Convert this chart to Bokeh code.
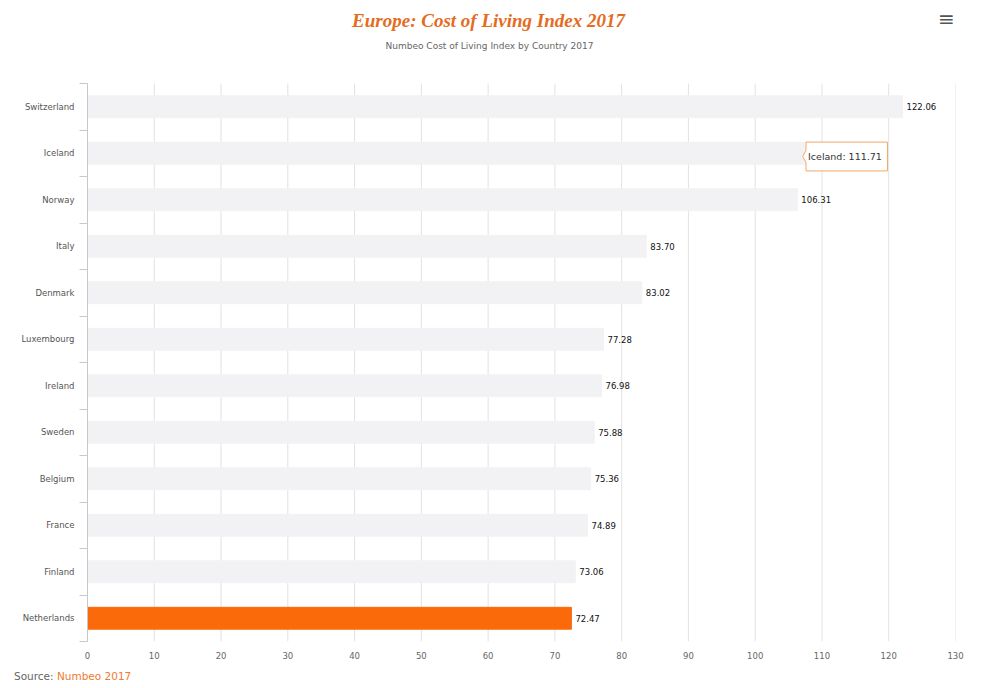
from bokeh.plotting import figure
from bokeh.models import Range1d, FixedTicker, Label, ColumnDataSource, Div
from bokeh.layouts import column
from bokeh.core.properties import value
from bokeh.embed import file_html
from bokeh.resources import INLINE

# ---- data ----
countries = ["Switzerland", "Iceland", "Norway", "Italy", "Denmark", "Luxembourg",
             "Ireland", "Sweden", "Belgium", "France", "Finland", "Netherlands"]
index_values = [122.06, 111.71, 106.31, 83.70, 83.02, 77.28,
                76.98, 75.88, 75.36, 74.89, 73.06, 72.47]
highlight = "Netherlands"
tooltip_country = "Iceland"
x_ticks = [0, 10, 20, 30, 40, 50, 60, 70, 80, 90, 100, 110, 120, 130]

title_text = "Europe: Cost of Living Index 2017"
subtitle_text = "Numbeo Cost of Living Index by Country 2017"
source_label = "Source:"
source_name = "Numbeo 2017"

ORANGE = "#fb6a0a"
BAR_GREY = "#f2f2f4"

# ---- layout constants (pixels) ----
FIG_W, FIG_H = 988, 666
PLOT_TOP = 83          # top of the bar area
FRAME_BOTTOM = 641     # bottom of the bar area / frame
n = len(countries)
cat_px = (FRAME_BOTTOM - PLOT_TOP) / n
y_end = n - 0.5 + PLOT_TOP / cat_px

ypos = [n - 1 - i for i in range(n)]  # first country at top
colors = [ORANGE if c == highlight else BAR_GREY for c in countries]

p = figure(width=FIG_W, height=FIG_H, output_backend="svg", toolbar_location=None,
           x_range=Range1d(0, 130), y_range=Range1d(-0.5, y_end),
           min_border_left=87, min_border_right=33, min_border_top=0,
           min_border_bottom=FIG_H - FRAME_BOTTOM, title=None)
p.outline_line_color = None
p.background_fill_color = "white"
p.border_fill_color = "white"
p.xgrid.grid_line_color = None
p.ygrid.grid_line_color = None

# vertical grid lines limited to the bar area
p.segment(x0=x_ticks, x1=x_ticks, y0=[-0.5] * len(x_ticks), y1=[n - 0.5] * len(x_ticks),
          line_color="#e2e2e2", line_width=1)

src = ColumnDataSource(dict(y=ypos, v=index_values, c=colors))
p.hbar(y="y", left=0, right="v", height=0.47, color="c", source=src)

# value labels (Iceland's sits under the tooltip)
lab_idx = [i for i, c in enumerate(countries) if c != tooltip_country]
lsrc = ColumnDataSource(dict(x=[index_values[i] for i in lab_idx],
                             y=[ypos[i] for i in lab_idx],
                             t=["%.2f" % index_values[i] for i in lab_idx]))
p.text(x="x", y="y", text="t", source=lsrc, x_offset=4, text_baseline="middle",
       text_align="left", text_font_size="8.5px", text_color="#111111",
       text_font=value("DejaVu Sans"))

# axes
p.xaxis.ticker = FixedTicker(ticks=x_ticks)
p.xaxis.axis_line_color = None
p.xaxis.major_tick_line_color = None
p.xaxis.minor_tick_line_color = None
p.xaxis.major_label_text_font_size = "8.5px"
p.xaxis.major_label_text_color = "#666666"
p.xaxis.major_label_text_font = "DejaVu Sans"
p.xaxis.major_label_standoff = 4

p.yaxis.ticker = FixedTicker(ticks=ypos, minor_ticks=[y + 0.5 for y in range(-1, n)])
p.yaxis.bounds = (-0.5, n - 0.5)
p.yaxis.major_label_overrides = {ypos[i]: countries[i] for i in range(n)}
p.yaxis.axis_line_color = "#c8c8c8"
p.yaxis.major_tick_line_color = None
p.yaxis.major_tick_out = 0
p.yaxis.major_tick_in = 0
p.yaxis.minor_tick_line_color = "#c8c8c8"
p.yaxis.minor_tick_out = 8
p.yaxis.minor_tick_in = 0
p.yaxis.major_label_text_font_size = "8.5px"
p.yaxis.major_label_text_color = "#555555"
p.yaxis.major_label_text_font = "DejaVu Sans"
p.yaxis.major_label_standoff = 5

# tooltip for Iceland
ti = countries.index(tooltip_country)
tv = index_values[ti]
T = ypos[ti] + 0.24
B = T - 0.62
ty = (T + B) / 2
L, R = tv - 4.1, tv + 8.1
p.patch(x=[L, R, R, L, L, L - 0.5, L], y=[T, T, B, B, ty - 0.13, ty, ty + 0.13],
        fill_color="white", fill_alpha=0.97, line_color="#f0a868", line_width=1)
p.text(x=[L + 0.3], y=[ty], text=["%s: %.2f" % (tooltip_country, tv)],
       text_baseline="middle", text_align="left", text_font_size="9.5px",
       text_color="#333333", text_font=value("DejaVu Sans"))

# titles and menu icon (screen units relative to the frame: x from left, y up from bottom)
p.add_layout(Label(x=488 - 87, y=FRAME_BOTTOM - 20, x_units="screen", y_units="screen",
                   text=title_text, text_align="center", text_baseline="middle",
                   text_font_size="19px", text_font="Liberation Serif",
                   text_font_style="bold italic", text_color="#e46c1e"))
p.add_layout(Label(x=489 - 87, y=FRAME_BOTTOM - 45, x_units="screen", y_units="screen",
                   text=subtitle_text, text_align="center", text_baseline="middle",
                   text_font_size="9px", text_font="DejaVu Sans", text_color="#666666"))
p.add_layout(Label(x=946 - 87, y=FRAME_BOTTOM - 18, x_units="screen", y_units="screen",
                   text="\u2261", text_align="center", text_baseline="middle",
                   text_font_size="20px", text_font="DejaVu Sans", text_color="#555555"))

src_div = Div(text=('<div style="font-family:\'DejaVu Sans\';font-size:10.5px;color:#666666;'
                    'padding:3px 0 0 14px;white-space:nowrap">%s '
                    '<span style="color:#f07a30">%s</span></div>') % (source_label, source_name),
              width=FIG_W, height=688 - FIG_H, margin=(0, 0, 0, 0))

layout = column(p, src_div, spacing=0)
open("out.html", "w").write(file_html(layout, INLINE))
